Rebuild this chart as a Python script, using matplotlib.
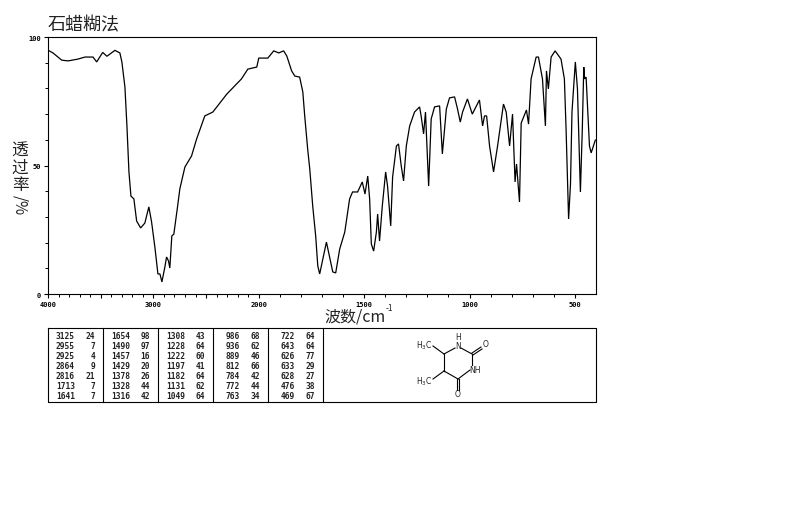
import numpy as np
from matplotlib import pyplot as plt
from matplotlib.ticker import FixedLocator, FixedFormatter

plt.rcParams['font.family'] = ['Noto Sans CJK SC', 'DejaVu Sans']

title = "石蜡糊法"

wavenumber = [
    3993, 3953, 3870, 3810, 3716, 3649, 3573, 3538, 3481, 3441, 3365, 3318, 3299, 3270, 3251,
    3232, 3213, 3185, 3159, 3121, 3081, 3043, 3017, 2986, 2957, 2938, 2919, 2891, 2875, 2856,
    2844, 2825, 2806, 2771, 2749, 2701, 2638, 2590, 2512, 2436, 2303, 2164, 2104, 2019, 2000,
    1957, 1929, 1905, 1882, 1867, 1844, 1829, 1806, 1791, 1782, 1768, 1758, 1744, 1730, 1720,
    1711, 1703, 1679, 1664, 1649, 1635, 1616, 1592, 1569, 1555, 1531, 1509, 1496, 1483, 1474,
    1466, 1455, 1442, 1436, 1427, 1414, 1398, 1389, 1374, 1365, 1347, 1337, 1324, 1313, 1300,
    1284, 1261, 1237, 1229, 1218, 1209, 1194, 1182, 1166, 1142, 1129, 1110, 1095, 1071, 1057,
    1044, 1033, 1010, 987, 953, 938, 929, 919, 905, 886, 867, 839, 826, 810, 796,
    784, 777, 763, 755, 730, 720, 708, 684, 673, 654, 640, 635, 626, 613, 594,
    566, 550, 542, 530, 521, 514, 498, 488, 474, 465, 458, 454, 447, 431, 423,
    412, 403,
]
transmittance = [
    94.7, 93.8, 91.0, 90.7, 91.4, 92.2, 92.2, 90.3, 94.0, 92.5, 94.8, 93.8, 90.3, 80.5, 65.4,
    47.5, 38.1, 37.0, 28.4, 25.7, 27.6, 33.9, 28.0, 18.3, 7.8, 7.8, 4.7, 10.5, 14.4, 12.8,
    10.1, 22.6, 23.3, 33.9, 40.9, 49.4, 53.7, 60.3, 69.3, 70.8, 77.8, 83.7, 87.5, 88.3, 91.8,
    91.8, 94.6, 93.8, 94.6, 92.6, 86.8, 84.8, 84.4, 78.6, 69.3, 56.4, 48.6, 34.2, 22.6, 10.9,
    7.8, 10.9, 20.2, 14.4, 8.6, 8.2, 17.5, 24.1, 37.0, 39.7, 39.7, 43.6, 38.9, 45.9, 37.0,
    19.5, 16.7, 24.1, 31.1, 20.6, 34.2, 47.5, 42.0, 26.5, 45.5, 57.6, 58.4, 49.8, 44.0, 57.6,
    65.4, 70.8, 72.8, 68.9, 62.3, 70.8, 42.0, 68.1, 72.8, 73.2, 54.5, 72.0, 76.3, 76.7, 72.0,
    66.9, 70.8, 75.9, 70.0, 75.5, 65.4, 69.3, 69.3, 57.6, 47.5, 57.6, 73.9, 70.8, 57.6, 70.0,
    43.6, 50.6, 35.8, 66.5, 71.6, 66.1, 83.7, 92.2, 92.2, 83.7, 65.4, 86.8, 79.8, 92.2, 94.6,
    91.4, 83.7, 64.2, 29.2, 42.8, 70.8, 90.3, 79.8, 39.7, 64.2, 88.3, 83.7, 84.4, 57.6, 54.9,
    57.6, 59.9,
]

# 3500 and 2500 carry a long tick but no label
x_major = [4000, 3500, 3000, 2500, 2000, 1500, 1000, 500]
x_major_labels = ["4000", "", "3000", "", "2000", "1500", "1000", "500"]
y_major = [0, 50, 100]

# peak table, one list per block
peak_wn = [
    [3125, 2955, 2925, 2864, 2816, 1713, 1641],
    [1654, 1490, 1457, 1429, 1378, 1328, 1316],
    [1308, 1228, 1222, 1197, 1182, 1131, 1049],
    [986, 936, 889, 812, 784, 772, 763],
    [722, 643, 626, 633, 628, 476, 469],
]
peak_t = [
    [24, 7, 4, 9, 21, 7, 7],
    [98, 97, 16, 20, 26, 44, 42],
    [43, 64, 60, 41, 64, 62, 64],
    [68, 62, 46, 66, 42, 44, 34],
    [64, 64, 77, 29, 27, 38, 67],
]


def squeeze(wn):
    wn = np.asarray(wn, dtype=float)
    return np.where(wn > 2000, 2000 + (wn - 2000) * 0.5, wn)


def unsqueeze(pos):
    pos = np.asarray(pos, dtype=float)
    return np.where(pos > 2000, 2000 + (pos - 2000) * 2, pos)


W, H = 794, 510
fig = plt.figure(figsize=(W / 100, H / 100), dpi=100)


def px_axes(left, top, right, bottom):
    return fig.add_axes([left / W, 1 - bottom / H, (right - left) / W, (bottom - top) / H])


ax = px_axes(48, 38, 596, 295)
ax.set_xscale('function', functions=(squeeze, unsqueeze))
ax.plot(wavenumber, transmittance, color='black', lw=0.9, solid_joinstyle='miter')
ax.set_xlim(4000, 400)
ax.set_ylim(0, 100)

ax.xaxis.set_major_locator(FixedLocator(x_major))
ax.xaxis.set_major_formatter(FixedFormatter(x_major_labels))
ax.xaxis.set_minor_locator(FixedLocator(list(range(4000, 400, -100))))
ax.yaxis.set_major_locator(FixedLocator(y_major))
ax.yaxis.set_minor_locator(FixedLocator(list(range(0, 101, 10))))
ax.tick_params(axis='both', which='major', length=3, width=0.8, pad=2,
               labelsize=5)
ax.tick_params(axis='both', which='minor', length=2, width=0.7)
for lab in ax.get_xticklabels() + ax.get_yticklabels():
    lab.set_family('DejaVu Sans Mono')
    lab.set_fontweight('bold')
for s in ax.spines.values():
    s.set_linewidth(0.8)

# overlay in pixel coordinates for the free text, table box and structure
ov = fig.add_axes([0, 0, 1, 1])
ov.set_xlim(0, W)
ov.set_ylim(H, 0)
ov.axis('off')
ov.patch.set_alpha(0)

ov.text(48, 25, title, fontsize=13, va='center', ha='left', color='#222222')
for ch, y in zip("透过率", [151, 168, 186]):
    ov.text(20, y, ch, fontsize=12, ha='center', va='center', color='#222222')
ov.text(20, 205, "/%", fontsize=11, rotation=-90, ha='center', va='center', color='#222222')
ov.text(324, 317, "波数/cm", fontsize=11.5, ha='left', va='center', color='#222222')
ov.text(386, 309, "-1", fontsize=6, ha='left', va='center', color='#222222')

# table
ov.plot([48, 596, 596, 48, 48], [329, 329, 403, 403, 329], color='black', lw=0.8)
for x in [103, 158, 213, 268, 323]:
    ov.plot([x, x], [329, 403], color='black', lw=0.8)
for b, x0 in enumerate([48, 103, 158, 213, 268]):
    for r in range(7):
        y = 337 + r * 10
        ov.text(x0 + 27, y, str(peak_wn[b][r]), fontsize=5.7, family='DejaVu Sans Mono',
                ha='right', va='center', fontweight='bold', color='#222222')
        ov.text(x0 + 47, y, str(peak_t[b][r]), fontsize=5.7, family='DejaVu Sans Mono',
                ha='right', va='center', fontweight='bold', color='#222222')

# structure
bonds = [
    ((444, 355), (455, 349)), ((461, 349), (472, 355)), ((472, 355), (472, 366)),
    ((470, 371), (458, 380)), ((458, 380), (444, 372)), ((444, 372), (444, 355)),
    ((444, 355), (433, 347)), ((444, 372), (433, 380)),
    ((472, 354), (481, 348)), ((473, 356), (482, 350)),
    ((457, 380), (457, 391)), ((459, 380), (459, 391)),
]
for a, b in bonds:
    ov.plot([a[0], b[0]], [a[1], b[1]], color='black', lw=0.8)
atoms = [
    (458, 338, "H"), (458, 347, "N"), (486, 345, "O"), (475, 371, "NH"),
    (458, 395, "O"), (424, 346, "H$_3$C"), (424, 382, "H$_3$C"),
]
for x, y, s in atoms:
    ov.text(x, y, s, fontsize=5.5, family='DejaVu Sans', ha='center', va='center', color='#222222')

fig.savefig("out.png", dpi=100)
